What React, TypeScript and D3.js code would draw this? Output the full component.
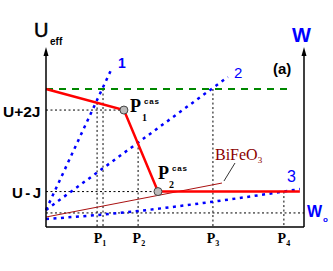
import React from 'react';
import * as d3 from 'd3';

const W = 333, H = 271;

// abstract data units (x: pressure 0..100, y: energy 0..100)
const levelTop = 77.5;
const levelU2J = 65.7;
const levelUJ = 19.9;
const levelW0 = 7.9;

const redPath: [number, number][] = [[0, 77.5], [30.2, 65.7], [43.4, 19.9], [98.4, 19.9]];
const criticalPoints: [number, number][] = [[30.2, 65.7], [43.4, 19.9]];
const line1: [number, number][] = [[0, 9.6], [25.2, 88.2]];
const line2: [number, number][] = [[0, 9.6], [70.5, 84.3]];
const line3: [number, number][] = [[0, 4.5], [28.7, 7.9], [63.6, 14.0], [98.4, 21.3]];
const bifeo3: [number, number][] = [[0, 5.6], [68.2, 24.7]];
const vGuides = [
  { x: 19.8, top: 69.7 },
  { x: 22.1, top: 77.5 },
  { x: 35.7, top: 47.2 },
  { x: 64.7, top: 77.5 },
  { x: 92.2, top: 19.9 },
];
const pTicks = [
  { sub: '1', x: 20.9 },
  { sub: '2', x: 36.0 },
  { sub: '3', x: 64.7 },
  { sub: '4', x: 92.2 },
];

export default function App() {
  const x = d3.scaleLinear().domain([0, 100]).range([46, 304]);
  const y = d3.scaleLinear().domain([0, 100]).range([227, 49]);
  const line = d3.line<[number, number]>().x(d => x(d[0])).y(d => y(d[1]));
  const curve = d3.line<[number, number]>().x(d => x(d[0])).y(d => y(d[1])).curve(d3.curveMonotoneX);

  const sans = 'Liberation Sans, Arial, sans-serif';
  const serif = 'Liberation Serif, Times New Roman, serif';
  const blue = '#0000ff';
  const dotted = { stroke: '#000', strokeWidth: 1, strokeDasharray: '2,2.5', fill: 'none' };
  const blueDot = { stroke: blue, strokeWidth: 2.5, strokeDasharray: '3,4.5', fill: 'none' };

  const x0 = x(0), x1 = x(100), yb = y(0), yt = y(100);

  return (
    <svg width={W} height={H} style={{ position: 'absolute', left: 0, top: 0, background: '#fff' }}>
      {/* guide lines */}
      <line x1={x(0)} x2={x(criticalPoints[0][0])} y1={y(levelU2J)} y2={y(levelU2J)} {...dotted} />
      <line x1={x(0)} x2={x(criticalPoints[1][0])} y1={y(levelUJ)} y2={y(levelUJ)} {...dotted} />
      <line x1={x(0)} x2={x(100)} y1={y(levelW0)} y2={y(levelW0)} {...dotted} />
      {vGuides.map((g, i) => (
        <line key={i} x1={x(g.x)} x2={x(g.x)} y1={y(g.top)} y2={y(0)} {...dotted} />
      ))}

      {/* green dashed */}
      <line x1={x(0)} x2={x(95.3)} y1={y(levelTop)} y2={y(levelTop)} stroke="#008800" strokeWidth={2} strokeDasharray="7,6" />

      {/* blue lines */}
      <path d={line(line1)!} {...blueDot} />
      <path d={line(line2)!} {...blueDot} />
      <path d={curve(line3)!} {...blueDot} />

      {/* BiFeO3 line */}
      <path d={line(bifeo3)!} stroke="#aa1111" strokeWidth={1} fill="none" />
      <line x1={235} y1={163} x2={x(bifeo3[1][0]) + 2} y2={y(bifeo3[1][1]) - 2} stroke="#000" strokeWidth={0.8} />

      {/* red path */}
      <path d={line(redPath)!} stroke="#ff0000" strokeWidth={2.5} fill="none" />
      {criticalPoints.map((p, i) => (
        <circle key={i} cx={x(p[0])} cy={y(p[1])} r={4} fill="#bbbbbb" stroke="#444" strokeWidth={1} />
      ))}

      {/* axes */}
      <line x1={x0} x2={x0} y1={yb} y2={yt + 4} stroke="#000" strokeWidth={1.5} />
      <line x1={x0} x2={x1} y1={yb} y2={yb} stroke="#000" strokeWidth={1.5} />
      <line x1={x1} x2={x1} y1={yb} y2={yt + 4} stroke="#000" strokeWidth={1.5} />
      <path d={`M${x0},${yt - 2} L${x0 - 2.5},${yt + 7} L${x0 + 2.5},${yt + 7} Z`} fill="#000" />
      <path d={`M${x1},${yt - 2} L${x1 - 2.5},${yt + 7} L${x1 + 2.5},${yt + 7} Z`} fill="#000" />

      {/* axis titles */}
      <text x={34} y={37} fontFamily={sans} fontSize={20} fill="#000" stroke="#000" strokeWidth={0.5}>U</text>
      <text x={50} y={45} fontFamily={sans} fontSize={10} fontWeight="bold" fill="#000">eff</text>
      <text x={292} y={42} fontFamily={sans} fontSize={20} fontWeight="bold" fill={blue}>W</text>
      <text x={273} y={74} fontFamily={sans} fontSize={15} fontWeight="bold" fill="#000">(a)</text>

      {/* level labels */}
      <text x={3} y={117} fontFamily={sans} fontSize={15.5} fontWeight="bold" fill="#000">U+2J</text>
      <text x={12} y={198} fontFamily={sans} fontSize={15} fontWeight="bold" fill="#000" letterSpacing={2.5}>U-J</text>
      <text x={307} y={217} fontFamily={sans} fontSize={16} fontWeight="bold" fill={blue}>W</text>
      <text x={323} y={222} fontFamily={sans} fontSize={8} fontWeight="bold" fill={blue}>o</text>

      {/* line labels */}
      <text x={118} y={68} fontFamily={sans} fontSize={14} fontWeight="bold" fill={blue}>1</text>
      <text x={234} y={78} fontFamily={sans} fontSize={15} fill={blue}>2</text>
      <text x={287} y={182} fontFamily={sans} fontSize={16} fill={blue}>3</text>

      {/* critical point labels */}
      <text x={130} y={112} fontFamily={serif} fontSize={18} fontWeight="bold" fill="#000">P</text>
      <text x={144} y={104} fontFamily={sans} fontSize={8} fontWeight="bold" fill="#000" letterSpacing={0.8}>cas</text>
      <text x={142} y={121} fontFamily={serif} fontSize={10} fontWeight="bold" fill="#000">1</text>
      <text x={158} y={179} fontFamily={serif} fontSize={18} fontWeight="bold" fill="#000">P</text>
      <text x={172} y={171} fontFamily={sans} fontSize={8} fontWeight="bold" fill="#000" letterSpacing={0.8}>cas</text>
      <text x={169} y={188} fontFamily={serif} fontSize={10} fontWeight="bold" fill="#000">2</text>

      {/* BiFeO3 label */}
      <text x={215} y={160} fontFamily={serif} fontSize={16} fill="#8b0000">
        BiFeO<tspan fontSize={9} dy={3}>3</tspan>
      </text>

      {/* P ticks */}
      {pTicks.map((t, i) => (
        <text key={i} x={x(t.x)} y={243} textAnchor="middle" fontFamily={serif} fontSize={14} fontWeight="bold" fill="#000">
          P<tspan fontSize={8} dy={3}>{t.sub}</tspan>
        </text>
      ))}
    </svg>
  );
}
